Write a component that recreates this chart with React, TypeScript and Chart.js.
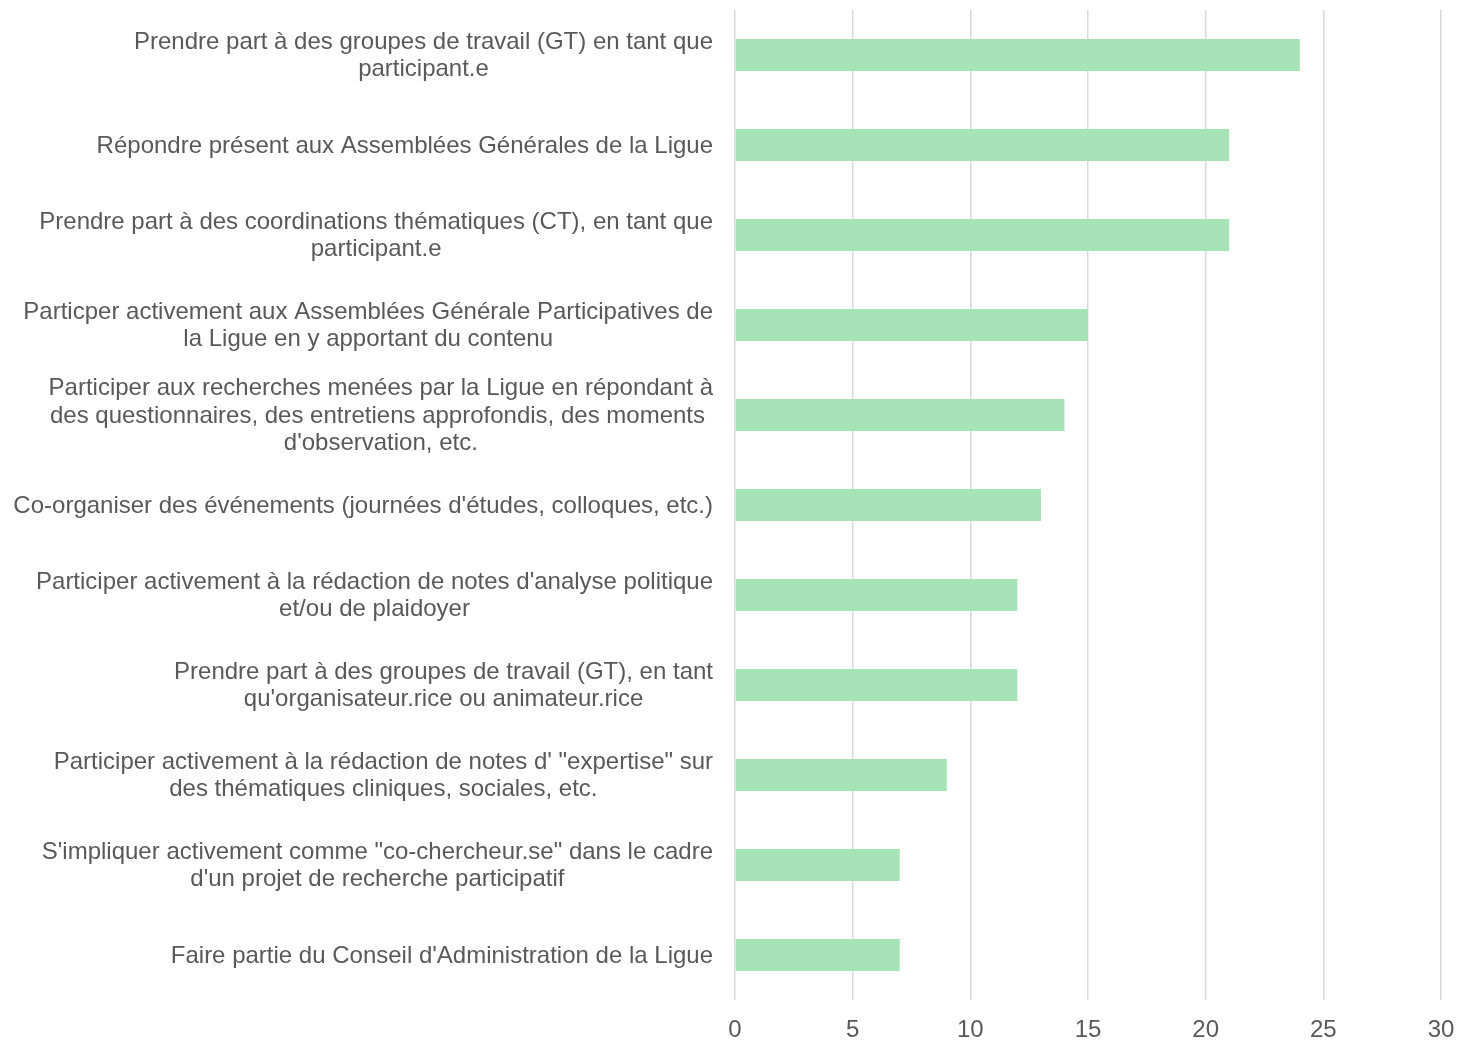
import React, { useEffect, useRef } from "react";
import { Chart, registerables } from "chart.js";

Chart.register(...registerables);

const categories: string[][] = [
  ["Prendre part à des groupes de travail (GT) en tant que", "participant.e"],
  ["Répondre présent aux Assemblées Générales de la Ligue"],
  ["Prendre part à des coordinations thématiques (CT), en tant que", "participant.e"],
  ["Particper activement aux Assemblées Générale Participatives de", "la Ligue en y apportant du contenu"],
  ["Participer aux recherches menées par la Ligue en répondant à", "des questionnaires, des entretiens approfondis, des moments ", "d'observation, etc."],
  ["Co-organiser des événements (journées d'études, colloques, etc.)"],
  ["Participer activement à la rédaction de notes d'analyse politique", "et/ou de plaidoyer"],
  ["Prendre part à des groupes de travail (GT), en tant", "qu'organisateur.rice ou animateur.rice"],
  ["Participer activement à la rédaction de notes d' \"expertise\" sur", "des thématiques cliniques, sociales, etc."],
  ["S'impliquer activement comme \"co-chercheur.se\" dans le cadre", "d'un projet de recherche participatif"],
  ["Faire partie du Conseil d'Administration de la Ligue"],
];

const values: number[] = [24, 21, 21, 15, 14, 13, 12, 12, 9, 7, 7];

const xMin = 0;
const xMax = 30;
const xStep = 5;

const FONT = "'Liberation Sans', Arial, sans-serif";
const TEXT_COLOR = "#595959";
const LABEL_SIZE = 24;
const LINE_H = 27.5;

const labelPlugin = {
  id: "centeredCategoryLabels",
  afterDraw(chart: any) {
    const ctx = chart.ctx as CanvasRenderingContext2D;
    const yScale = chart.scales.y;
    const rightEdge = chart.chartArea.left - 22;
    ctx.save();
    ctx.font = `${LABEL_SIZE}px ${FONT}`;
    ctx.fillStyle = TEXT_COLOR;
    ctx.textAlign = "center";
    ctx.textBaseline = "middle";
    categories.forEach((lines, i) => {
      const y = yScale.getPixelForTick(i) + 1;
      const maxW = Math.max(...lines.map((l) => ctx.measureText(l.trimEnd()).width));
      const cx = rightEdge - maxW / 2;
      const y0 = y - ((lines.length - 1) * LINE_H) / 2;
      lines.forEach((l, j) => {
        ctx.fillText(l, cx, y0 + j * LINE_H);
      });
    });
    ctx.restore();
  },
};

export default function App() {
  const ref = useRef<HTMLCanvasElement | null>(null);
  useEffect(() => {
    if (!ref.current) return;
    const chart = new Chart(ref.current, {
      type: "bar",
      data: {
        labels: categories,
        datasets: [
          {
            data: values,
            backgroundColor: "#A6E3B7",
            borderWidth: 0,
            barPercentage: 0.355,
            categoryPercentage: 1,
          },
        ],
      },
      options: {
        indexAxis: "y",
        animation: false,
        responsive: true,
        maintainAspectRatio: false,
        layout: { padding: { left: 735, right: 17, top: 10, bottom: 0 } },
        plugins: { legend: { display: false }, tooltip: { enabled: false } },
        scales: {
          x: {
            min: xMin,
            max: xMax,
            ticks: {
              stepSize: xStep,
              color: TEXT_COLOR,
              font: { size: LABEL_SIZE, family: FONT },
              padding: 16,
            },
            grid: { color: "#D9D9D9", lineWidth: 1.5, drawTicks: false },
            border: { display: false },
            afterFit(scale: any) {
              scale.height = 40;
              scale.paddingRight = 0;
              scale.paddingLeft = 0;
            },
          },
          y: {
            display: false,
          },
        },
      },
      plugins: [labelPlugin],
    });
    return () => chart.destroy();
  }, []);
  return (
    <div style={{ position: "fixed", left: 0, top: 0, width: 1458, height: 1040, background: "#fff" }}>
      <canvas ref={ref} />
    </div>
  );
}
